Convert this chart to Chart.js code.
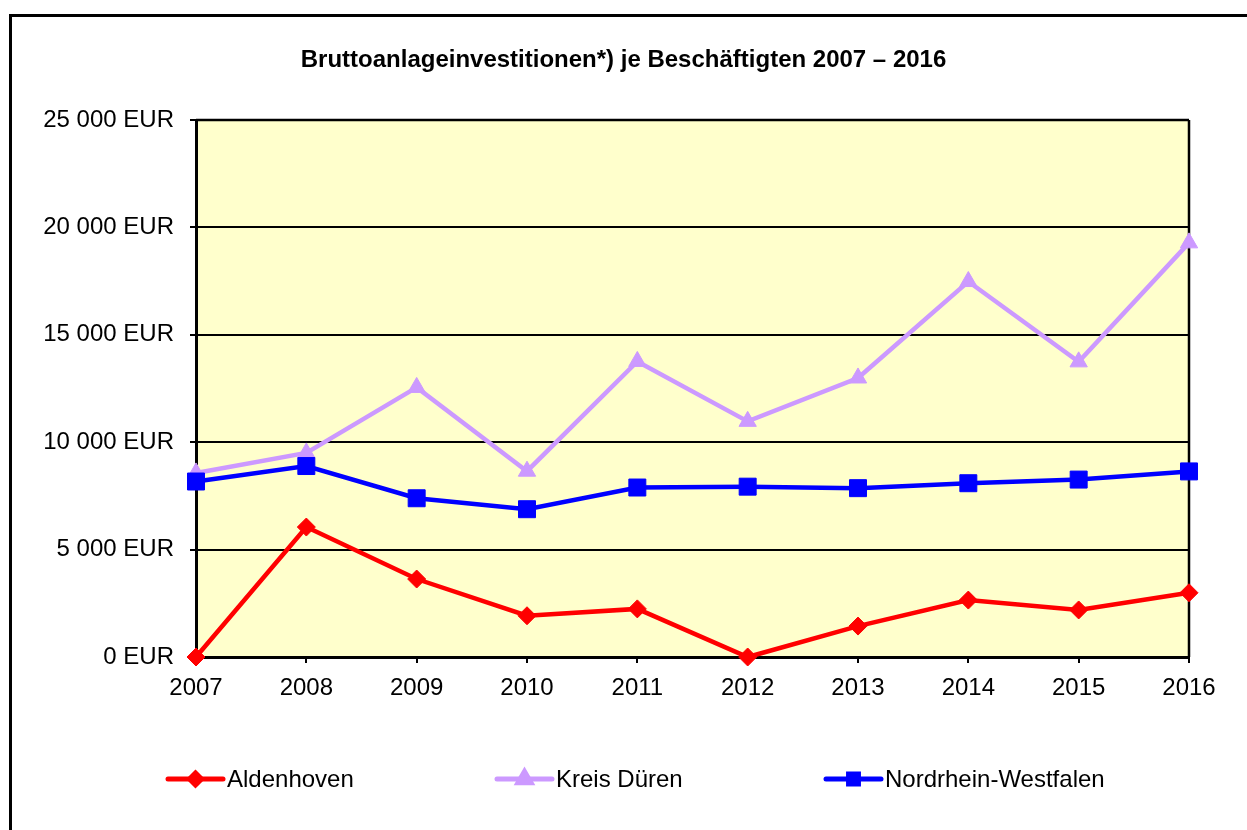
<!DOCTYPE html>
<html>
<head>
<meta charset="utf-8">
<script src="https://cdn.jsdelivr.net/npm/chart.js@4.4.1/dist/chart.umd.min.js"></script>
<style>
  html, body { margin: 0; padding: 0; background: #ffffff; }
  #wrap { position: relative; width: 1247px; height: 830px; overflow: hidden; }
  canvas { display: block; }
</style>
</head>
<body>
<div id="wrap"><canvas id="c" width="1247" height="830"></canvas></div>
<script>
const titleText = 'Bruttoanlageinvestitionen*) je Beschäftigten 2007 \u2013 2016';
const years = ['2007','2008','2009','2010','2011','2012','2013','2014','2015','2016'];
const aldenhoven = [0, 6050, 3630, 1920, 2240, 0, 1440, 2650, 2190, 2990];
const kreisDueren = [8570, 9500, 12550, 8650, 13760, 10970, 12990, 17480, 13740, 19280];
const nrw = [8170, 8890, 7390, 6880, 7890, 7930, 7860, 8090, 8260, 8640];
const seriesNames = ['Aldenhoven', 'Kreis Düren', 'Nordrhein-Westfalen'];
const yMin = 0, yMax = 25000, yStep = 5000;

const FONT = '"Liberation Sans", Arial, sans-serif';
const colors = ['#FF0000', '#CC99FF', '#0000FF'];

function fmt(v) {
  return String(v).replace(/\B(?=(\d{3})+(?!\d))/g, ' ') + ' EUR';
}

const framePlugin = {
  id: 'frame',
  beforeDraw(chart) {
    const { ctx, chartArea: a } = chart;
    ctx.save();
    ctx.fillStyle = '#FFFFCC';
    ctx.fillRect(a.left, a.top, a.right - a.left, a.bottom - a.top);
    ctx.strokeStyle = '#000000';
    ctx.lineWidth = 3;
    ctx.beginPath();
    ctx.moveTo(10.5, 840);
    ctx.lineTo(10.5, 15.5);
    ctx.lineTo(1260, 15.5);
    ctx.stroke();
    ctx.fillStyle = '#000000';
    ctx.font = 'bold 24px ' + FONT;
    ctx.textAlign = 'center';
    ctx.textBaseline = 'middle';
    ctx.fillText(titleText, 623.5, 60);
    ctx.restore();
  },
  beforeDatasetsDraw(chart) {
    const { ctx, chartArea: a } = chart;
    ctx.save();
    ctx.strokeStyle = '#000000';
    ctx.lineWidth = 2.5;
    ctx.beginPath();
    ctx.moveTo(a.right, a.top);
    ctx.lineTo(a.right, a.bottom);
    ctx.moveTo(a.left, a.top);
    ctx.lineTo(a.right, a.top);
    ctx.stroke();
    ctx.restore();
  },
  afterDraw(chart) {
    const ctx = chart.ctx;
    const starts = [168, 497, 826];
    const ly = 779;
    ctx.save();
    seriesNames.forEach((name, i) => {
      const ds = chart.data.datasets[i];
      const x0 = starts[i];
      ctx.strokeStyle = ds.borderColor;
      ctx.lineWidth = 5;
      ctx.lineCap = 'round';
      ctx.beginPath();
      ctx.moveTo(x0, ly);
      ctx.lineTo(x0 + 55, ly);
      ctx.stroke();
      ctx.fillStyle = ds.borderColor;
      ctx.strokeStyle = ds.borderColor;
      Chart.helpers.drawPoint(ctx, {
        pointStyle: ds.pointStyle,
        radius: ds.legendRadius,
        rotation: 0,
        borderWidth: 1
      }, x0 + 27.5, ly);
      ctx.fillStyle = '#000000';
      ctx.font = '24px ' + FONT;
      ctx.textAlign = 'left';
      ctx.textBaseline = 'middle';
      ctx.fillText(name, x0 + 59, ly + 1);
    });
    ctx.restore();
  }
};

new Chart(document.getElementById('c'), {
  type: 'line',
  data: {
    labels: years,
    datasets: [
      {
        label: seriesNames[0], data: aldenhoven, order: 0,
        borderColor: colors[0], backgroundColor: colors[0],
        borderWidth: 4.5, pointStyle: 'rectRot', pointRadius: 9,
        pointBorderWidth: 1, legendRadius: 6, clip: false, tension: 0
      },
      {
        label: seriesNames[1], data: kreisDueren, order: 2,
        borderColor: colors[1], backgroundColor: colors[1],
        borderWidth: 4.5, pointStyle: 'triangle', pointRadius: 10,
        pointBorderWidth: 1, legendRadius: 7.5, clip: false, tension: 0
      },
      {
        label: seriesNames[2], data: nrw, order: 1,
        borderColor: colors[2], backgroundColor: colors[2],
        borderWidth: 4.5, pointStyle: 'rect', pointRadius: 12,
        pointBorderWidth: 1, legendRadius: 7, clip: false, tension: 0
      }
    ]
  },
  options: {
    responsive: false,
    animation: false,
    devicePixelRatio: 1,
    layout: { padding: { top: 120, right: 58, left: 0, bottom: 0 } },
    plugins: {
      legend: { display: false },
      title: { display: false },
      tooltip: { enabled: false }
    },
    scales: {
      x: {
        offset: false,
        grid: { drawOnChartArea: false, drawTicks: true, tickLength: 6, color: '#000000', lineWidth: 2 },
        border: { display: true, color: '#000000', width: 3 },
        ticks: { color: '#000000', font: { family: FONT, size: 24 }, padding: 11, maxRotation: 0, autoSkip: false },
        afterFit(scale) { scale.height = 173; }
      },
      y: {
        min: yMin, max: yMax,
        grid: { color: '#000000', lineWidth: 2, tickLength: 6, drawTicks: true },
        border: { display: true, color: '#000000', width: 3 },
        ticks: { stepSize: yStep, color: '#000000', font: { family: FONT, size: 24 }, padding: 16, callback: (v) => fmt(v) },
        afterFit(scale) { scale.width = 196; }
      }
    }
  },
  plugins: [framePlugin]
});
</script>
</body>
</html>
